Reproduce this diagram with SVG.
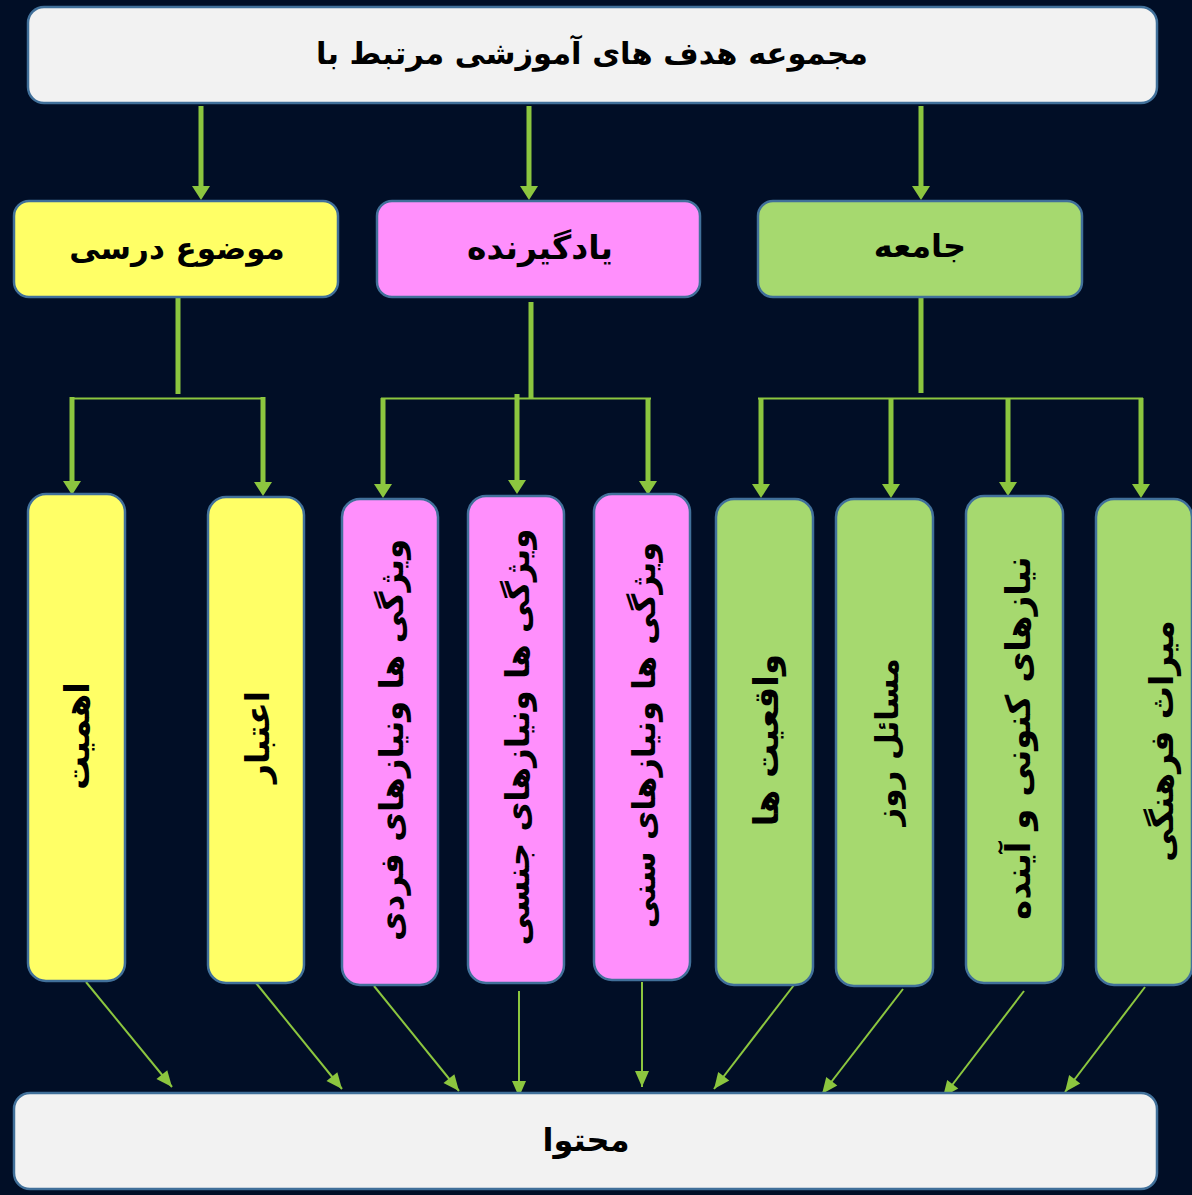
<svg xmlns="http://www.w3.org/2000/svg" width="1192" height="1195" viewBox="0 0 1192 1195">
<defs>
<style>
.bg{fill:#010e26}
.box{stroke:#41709a;stroke-width:2.5}
.w{fill:#f2f2f2}
.y{fill:#ffff66}
.p{fill:#ff8ffc}
.g{fill:#a6d96f}
text{font-family:"DejaVu Sans",sans-serif;font-weight:bold;fill:#000;text-anchor:middle}
.h1{font-size:30.5px}
.h2{font-size:31px}
.v{font-size:33px}
.thick{stroke:#8cc63f;stroke-width:5;fill:none}
.thin{stroke:#8cc63f;stroke-width:2;fill:none}
</style>
<marker id="ah" markerUnits="userSpaceOnUse" markerWidth="20" markerHeight="20" viewBox="0 -10 20 20" refX="0" refY="0" orient="auto" overflow="visible">
<path d="M0,-9 L14,0 L0,9 Z" fill="#8cc63f"/>
</marker>
<marker id="at" markerUnits="userSpaceOnUse" markerWidth="20" markerHeight="20" viewBox="0 -10 20 20" refX="16" refY="0" orient="auto" overflow="visible">
<path d="M0,-7 L16,0 L0,7 Z" fill="#8cc63f"/>
</marker>
</defs>
<rect class="bg" x="0" y="0" width="1192" height="1195"/>

<g id="connectors">
<line class="thick" x1="201" y1="106" x2="201" y2="186" marker-end="url(#ah)"/>
<line class="thick" x1="529" y1="106" x2="529" y2="186" marker-end="url(#ah)"/>
<line class="thick" x1="921" y1="106" x2="921" y2="186" marker-end="url(#ah)"/>

<line class="thick" x1="178" y1="298" x2="178" y2="394"/>
<line class="thin" x1="70" y1="398.5" x2="265" y2="398.5"/>
<line class="thick" x1="72" y1="397" x2="72" y2="481" marker-end="url(#ah)"/>
<line class="thick" x1="263" y1="397" x2="263" y2="482" marker-end="url(#ah)"/>

<line class="thick" x1="531" y1="302" x2="531" y2="398"/>
<line class="thin" x1="381" y1="398.5" x2="651" y2="398.5"/>
<line class="thick" x1="383" y1="398" x2="383" y2="484" marker-end="url(#ah)"/>
<line class="thick" x1="517" y1="394" x2="517" y2="480" marker-end="url(#ah)"/>
<line class="thick" x1="648" y1="398" x2="648" y2="481" marker-end="url(#ah)"/>

<line class="thick" x1="921" y1="298" x2="921" y2="393"/>
<line class="thin" x1="758" y1="398.5" x2="1143" y2="398.5"/>
<line class="thick" x1="761" y1="398" x2="761" y2="484" marker-end="url(#ah)"/>
<line class="thick" x1="891" y1="398" x2="891" y2="484" marker-end="url(#ah)"/>
<line class="thick" x1="1008" y1="398" x2="1008" y2="482" marker-end="url(#ah)"/>
<line class="thick" x1="1141" y1="398" x2="1141" y2="484" marker-end="url(#ah)"/>

<line class="thin" x1="86" y1="982" x2="172" y2="1087" marker-end="url(#at)"/>
<line class="thin" x1="256" y1="983" x2="342" y2="1089" marker-end="url(#at)"/>
<line class="thin" x1="374" y1="986" x2="459" y2="1091" marker-end="url(#at)"/>
<line class="thin" x1="519" y1="991" x2="519" y2="1097" marker-end="url(#at)"/>
<line class="thin" x1="642" y1="982" x2="642" y2="1087" marker-end="url(#at)"/>
<line class="thin" x1="794" y1="985" x2="714" y2="1089" marker-end="url(#at)"/>
<line class="thin" x1="903" y1="989" x2="822" y2="1094" marker-end="url(#at)"/>
<line class="thin" x1="1024" y1="991" x2="943" y2="1097" marker-end="url(#at)"/>
<line class="thin" x1="1145" y1="987" x2="1065" y2="1092" marker-end="url(#at)"/>
</g>

<g id="goals">
<rect class="box w" x="28" y="7" width="1129" height="96" rx="16"/>
<text class="h1" x="592" y="64">مجموعه هدف های آموزشی مرتبط با</text>
</g>

<g id="subject">
<rect class="box y" x="14" y="201" width="324" height="96" rx="15"/>
<text class="h2" x="177" y="259">موضوع درسی</text>
</g>
<g id="learner">
<rect class="box p" x="377" y="201" width="323" height="96" rx="15"/>
<text class="h2" x="540" y="259" style="font-size:33px">یادگیرنده</text>
</g>
<g id="society">
<rect class="box g" x="758" y="201" width="324" height="96" rx="15"/>
<text class="h2" x="920" y="257" style="font-size:32px">جامعه</text>
</g>

<g id="importance">
<rect class="box y" x="28" y="494" width="97" height="487" rx="18"/>
<text class="v" transform="translate(77,736) rotate(-90)" y="12" style="font-size:34px">اهمیت</text>
</g>
<g id="validity">
<rect class="box y" x="208" y="497" width="96" height="486" rx="18"/>
<text class="v" transform="translate(257,737) rotate(-90)" y="12">اعتبار</text>
</g>
<g id="individual">
<rect class="box p" x="342" y="499" width="96" height="486" rx="18"/>
<text class="v" transform="translate(391,740) rotate(-90)" y="12" style="font-size:32.5px">ویژگی ها ونیازهای فردی</text>
</g>
<g id="gender">
<rect class="box p" x="468" y="496" width="96" height="487" rx="18"/>
<text class="v" transform="translate(517,737) rotate(-90)" y="12" style="font-size:32.5px">ویژگی ها ونیازهای جنسی</text>
</g>
<g id="age">
<rect class="box p" x="594" y="494" width="96" height="486" rx="18"/>
<text class="v" transform="translate(643,735) rotate(-90)" y="12" style="font-size:32px">ویژگی ها ونیازهای سنی</text>
</g>
<g id="realities">
<rect class="box g" x="716" y="499" width="97" height="486" rx="18"/>
<text class="v" transform="translate(766,740) rotate(-90)" y="12" style="font-size:34px">واقعیت ها</text>
</g>
<g id="issues">
<rect class="box g" x="836" y="499" width="97" height="487" rx="18"/>
<text class="v" transform="translate(886,742) rotate(-90)" y="12" style="font-size:31px">مسائل روز</text>
</g>
<g id="needs">
<rect class="box g" x="966" y="496" width="97" height="487" rx="18"/>
<text class="v" transform="translate(1018,738) rotate(-90)" y="12" style="font-size:34px">نیازهای کنونی و آینده</text>
</g>
<g id="heritage">
<rect class="box g" x="1096" y="499" width="96" height="486" rx="18"/>
<text class="v" transform="translate(1161,741) rotate(-90)" y="12">میراث فرهنگی</text>
</g>

<g id="content">
<rect class="box w" x="14" y="1093" width="1143" height="96" rx="16"/>
<text class="h2" x="586" y="1151" style="font-size:32px">محتوا</text>
</g>
</svg>
